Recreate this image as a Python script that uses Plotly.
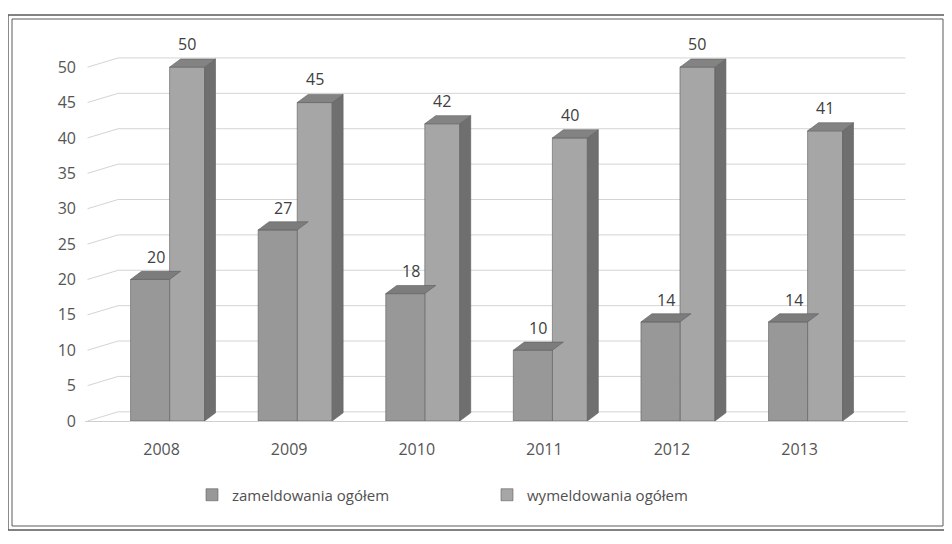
import plotly.graph_objects as go

years = ["2008", "2009", "2010", "2011", "2012", "2013"]
zameldowania = [20, 27, 18, 10, 14, 14]
wymeldowania = [50, 45, 42, 40, 50, 41]
y_ticks = [0, 5, 10, 15, 20, 25, 30, 35, 40, 45, 50]
series_names = ["zameldowania ogółem", "wymeldowania ogółem"]

OFF = 8                      # page body margin of the html page
W, H = 952 - OFF, 544 - OFF
L, T = 85 - OFF, 53 - OFF
B = H - (421 - OFF)
R = W - (908 - OFF)
x_range = [-0.6, 5.85]
y_range = [0, 52]
plot_w = W - L - R
plot_h = H - T - B

# bar geometry (in axis units)
f_off, f_w = -0.243, 0.306      # front bar (zameldowania)
b_off, b_w = 0.063, 0.274       # back bar (wymeldowania)
dx, dy = 0.086, 1.15            # pseudo-3D depth
wall_dx, wall_dy = 0.24, 1.3    # left wall / back wall depth for gridlines

xs = list(range(len(years)))
fig = go.Figure()

# gridlines on back wall with perspective on left wall
for t in y_ticks:
    fig.add_shape(type="line", xref="x", yref="y", x0=x_range[0] + 0.02, y0=t,
                  x1=x_range[0] + 0.02 + wall_dx, y1=t + wall_dy,
                  line=dict(color="#d4d4d4", width=1), layer="below")
    fig.add_shape(type="line", xref="x", yref="y", x0=x_range[0] + 0.02 + wall_dx, y0=t + wall_dy,
                  x1=x_range[1] - 0.02, y1=t + wall_dy,
                  line=dict(color="#d4d4d4", width=1), layer="below")


def poly(xp, yp, color):
    fig.add_trace(go.Scatter(x=xp + [xp[0]], y=yp + [yp[0]], mode="lines", fill="toself",
                             fillcolor=color, line=dict(width=0.6, color="#5e5e5e"),
                             hoverinfo="skip", showlegend=False))


# back bars: side and top faces
for i, v in zip(xs, wymeldowania):
    x0, x1 = i + b_off, i + b_off + b_w
    poly([x1, x1 + dx, x1 + dx, x1], [0, dy, v + dy, v], "#6f6f6f")
    poly([x0, x0 + dx, x1 + dx, x1], [v, v + dy, v + dy, v], "#838383")

fig.add_trace(go.Bar(x=xs, y=wymeldowania, offset=b_off, width=b_w, name=series_names[1],
                     marker=dict(color="#a6a6a6", line=dict(width=0.6, color="#5e5e5e"))))

# front bars: top faces
for i, v in zip(xs, zameldowania):
    x0, x1 = i + f_off, i + f_off + f_w
    poly([x0, x0 + dx, x1 + dx, x1], [v, v + dy, v + dy, v], "#7c7c7c")

fig.add_trace(go.Bar(x=xs, y=zameldowania, offset=f_off, width=f_w, name=series_names[0],
                     marker=dict(color="#989898", line=dict(width=0.6, color="#5e5e5e"))))

# value labels
lab_font = dict(family="Open Sans, sans-serif", size=16, color="#404040")
for i, v in zip(xs, zameldowania):
    fig.add_annotation(x=i + f_off + f_w / 2 + dx / 2, y=v + dy, text=str(v), showarrow=False,
                       yanchor="bottom", yshift=1, font=lab_font)
for i, v in zip(xs, wymeldowania):
    fig.add_annotation(x=i + b_off + b_w / 2, y=v + dy, text=str(v), showarrow=False,
                       yanchor="bottom", yshift=2, font=lab_font)


def px2paper_x(p):
    return (p - OFF - L) / plot_w


def px2paper_y(p):
    return (H - B - (p - OFF)) / plot_h


# double frame (screen pixel coordinates)
for (a, b, c, d, wdt) in [(8, 15, 947, 530, 1.4), (12, 19, 943, 526, 1.0)]:
    fig.add_shape(type="rect", xref="paper", yref="paper",
                  x0=px2paper_x(a), x1=px2paper_x(c), y0=px2paper_y(d), y1=px2paper_y(b),
                  line=dict(color="#5a5a5a", width=wdt), layer="below")

fig.update_layout(
    width=W, height=H,
    margin=dict(l=L, r=R, t=T, b=B, autoexpand=False),
    paper_bgcolor="white", plot_bgcolor="white",
    font=dict(family="Open Sans, sans-serif", size=16, color="#555555"),
    barmode="overlay",
    showlegend=True,
    legend=dict(orientation="h", x=px2paper_x(487), xanchor="center",
                y=px2paper_y(495), yanchor="middle",
                traceorder="reversed", font=dict(size=15, color="#505050"),
                itemwidth=30, entrywidth=250, entrywidthmode="pixels"),
    xaxis=dict(range=x_range, tickmode="array", tickvals=xs, ticktext=years,
               showgrid=False, zeroline=False, showline=False, ticks="",
               ticklabelstandoff=17),
    yaxis=dict(range=y_range, tickmode="array", tickvals=y_ticks,
               showgrid=False, zeroline=True, zerolinewidth=1,
               zerolinecolor="#cfcfcf", showline=False, ticks="", ticklabelstandoff=8),
)

fig.write_html("out.html")
